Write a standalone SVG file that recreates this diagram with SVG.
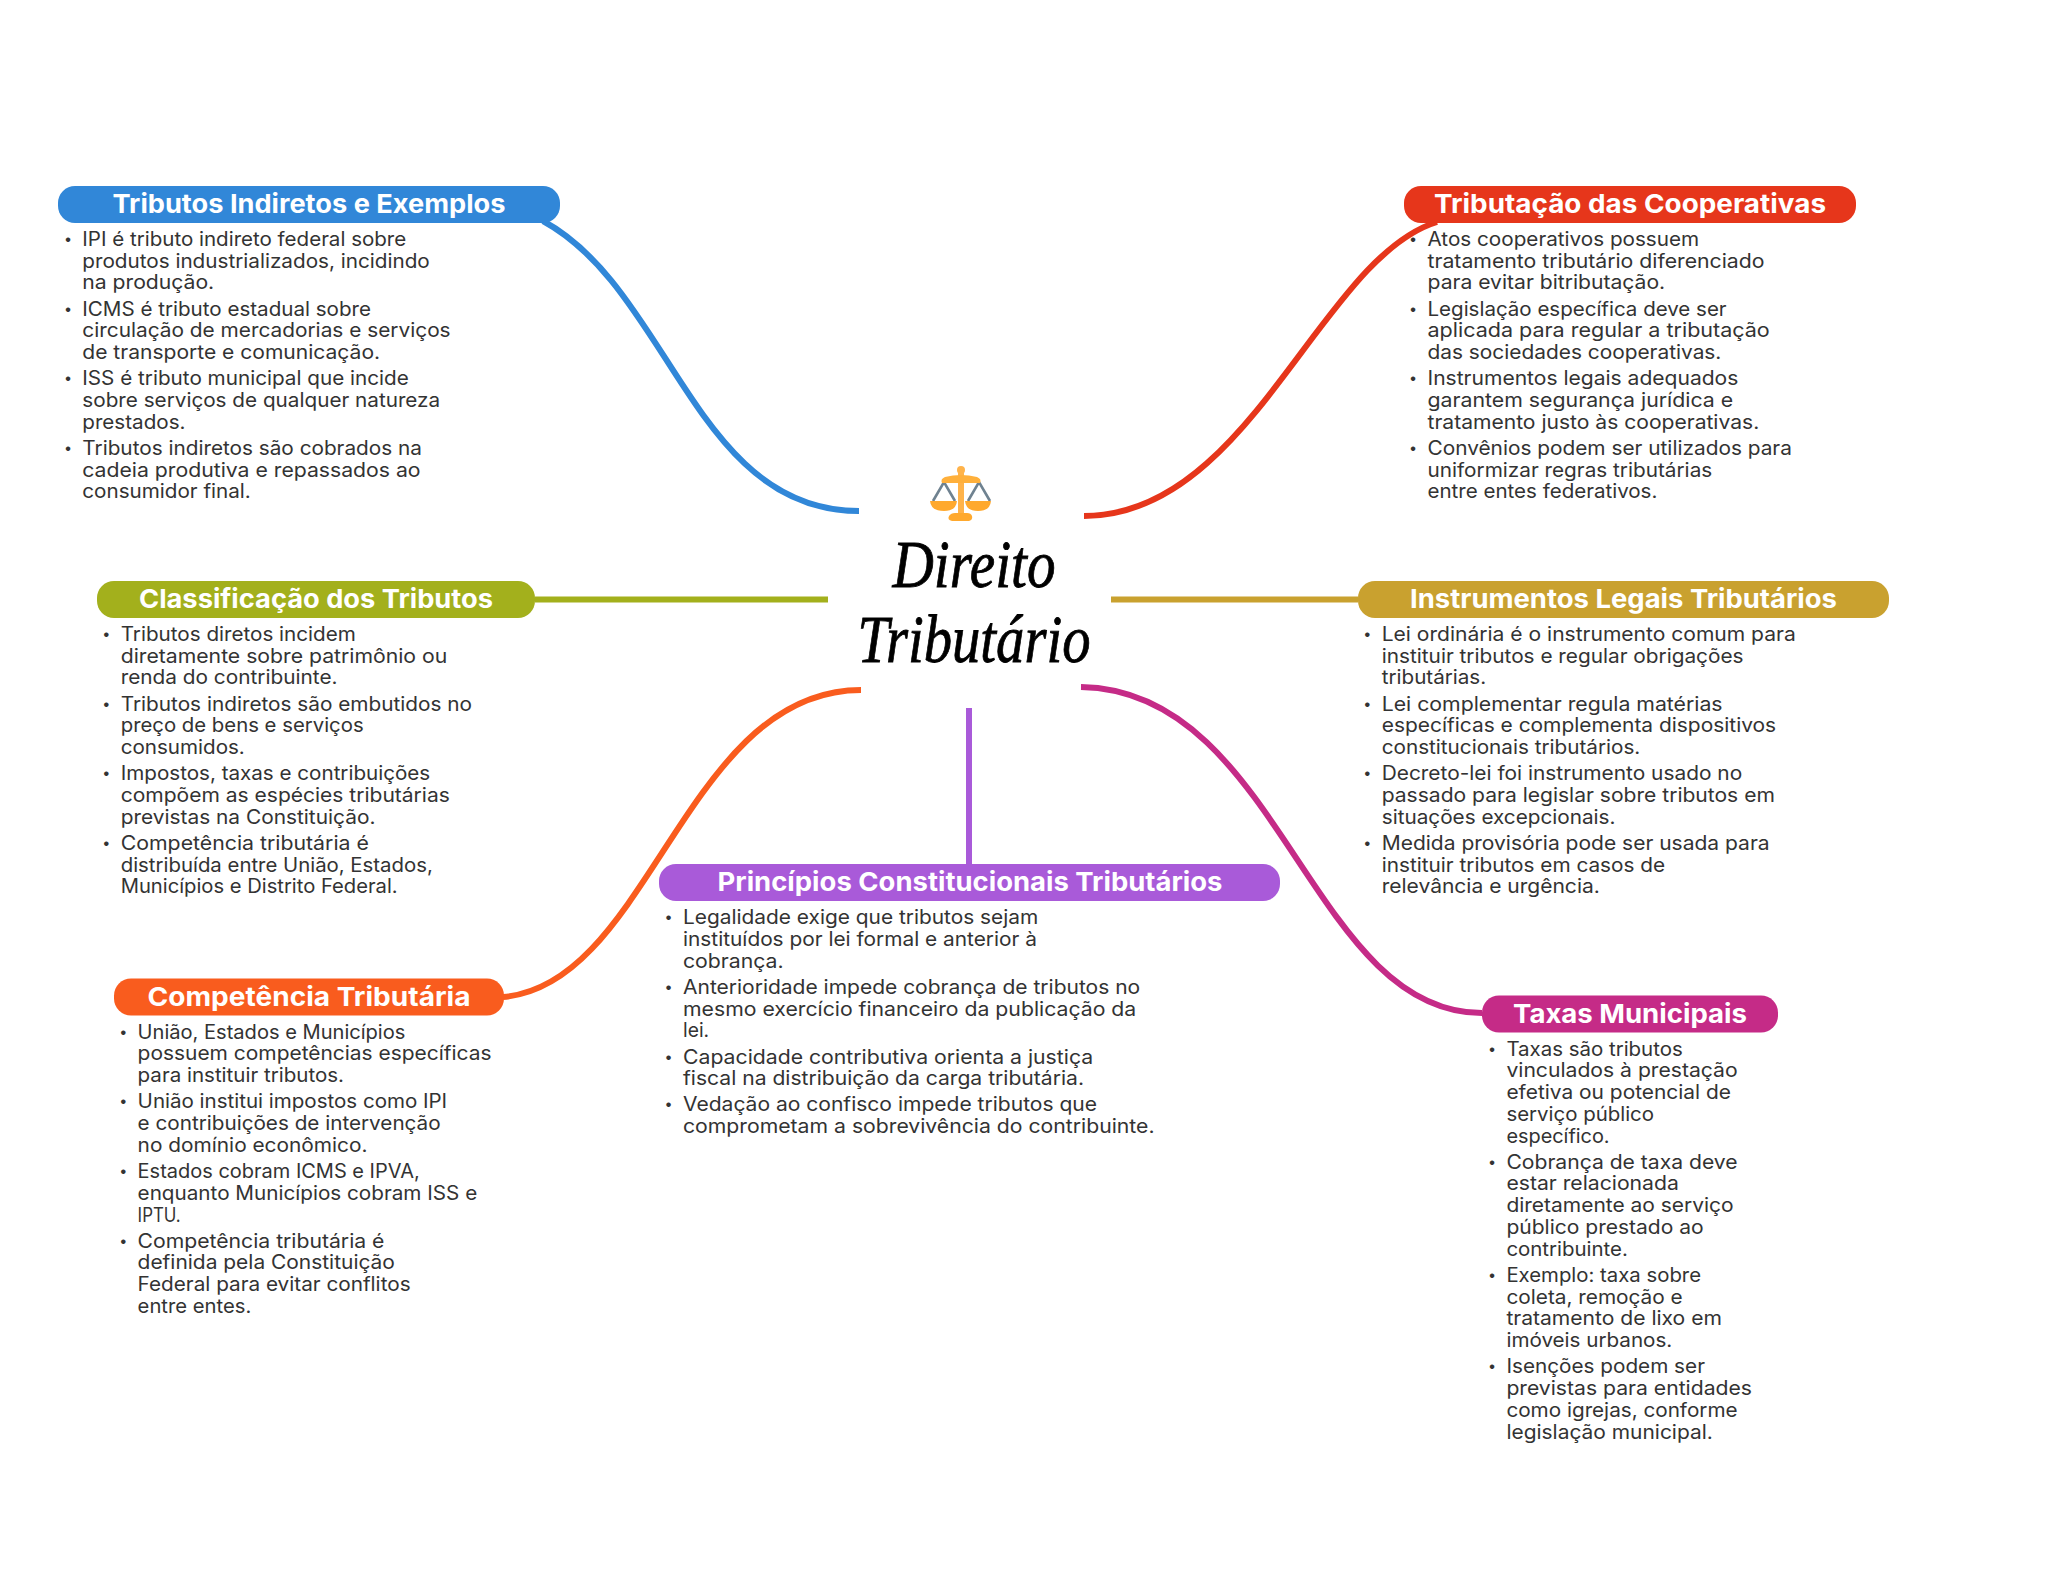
<svg xmlns="http://www.w3.org/2000/svg" width="2048" height="1569" viewBox="0 0 2048 1569">
<style>
.c{fill:none;stroke-width:6}
.h{font:700 26px Inter,"Noto Sans",sans-serif;fill:#fff;text-anchor:middle}
.b text{font:400 15px Inter,"Noto Sans",sans-serif;fill:#333}
.b text.d{font-size:11px;text-anchor:middle;transform:translateY(-1.5px)}
.t{font:italic 400 67px "Liberation Serif",serif;fill:#000;stroke:#000;stroke-width:.8;text-anchor:middle}
</style>
<rect width="2048" height="1569" fill="#fff"/>
<g id="connectors">
<path class="c" stroke="#3187d8" d="M543 221C670 290 695 511 859 511"/>
<path class="c" stroke="#e6361b" d="M1437 222C1320 258 1250 516 1084 516"/>
<line class="c" stroke="#a3b01c" x1="535" y1="599.5" x2="828" y2="599.5"/>
<line class="c" stroke="#c9a12f" x1="1111" y1="599.5" x2="1358" y2="599.5"/>
<path class="c" stroke="#f95c1e" d="M503 997C650 985 685 690 861 690"/>
<path class="c" stroke="#c52b87" d="M1081 687C1280 690 1310 1013 1482 1013"/>
<line class="c" stroke="#a95ad9" x1="969" y1="708" x2="969" y2="865"/>
</g>
<g id="center">
<g id="icon">
<path d="M933 501L944 482L955 501M968 501L979 482L990 501" stroke="#6f8290" stroke-width="2.6" fill="none"/>
<circle cx="961" cy="470" r="4" fill="#ffb34a"/>
<path d="M958 470h6v44h-6z" fill="#ffb34a"/>
<path d="M945 477q16-4 32 0q5 2 3 6h-38q-2-4 3-6z" fill="#ffb03b"/>
<path d="M952 521q-5-1-3-5q2-3 6-3h12q4 0 5 3q1 4-3 5z" fill="#ffa92e"/>
<path d="M930 501h27q-1 10-13 10q-13 0-14-10zM965 501h26q-1 10-13 10q-12 0-13-10z" fill="#ffa92e"/>
</g>
<text class="t" x="974" y="587" textLength="163" lengthAdjust="spacingAndGlyphs">Direito</text>
<text class="t" x="974" y="662" textLength="233" lengthAdjust="spacingAndGlyphs">Tributário</text>
</g>
<g id="n1">
<rect x="58" y="186" width="502" height="37" rx="17" fill="#3187d8"/>
<text class="h" x="309" y="212.5" textLength="393" lengthAdjust="spacingAndGlyphs">Tributos Indiretos e Exemplos</text>
<g class="b" transform="translate(82.3 246) scale(1.30612)">
<text class="d" x="-11" y="0">•</text><text class="d" x="-11" y="53.3">•</text><text class="d" x="-11" y="106.7">•</text><text class="d" x="-11" y="160">•</text>
<text y="0" textLength="248" lengthAdjust="spacingAndGlyphs">IPI é tributo indireto federal sobre</text>
<text y="16.7" textLength="266" lengthAdjust="spacingAndGlyphs">produtos industrializados, incidindo</text>
<text y="33.3" textLength="101" lengthAdjust="spacingAndGlyphs">na produção.</text>
<text y="53.3" textLength="221" lengthAdjust="spacingAndGlyphs">ICMS é tributo estadual sobre</text>
<text y="70" textLength="282" lengthAdjust="spacingAndGlyphs">circulação de mercadorias e serviços</text>
<text y="86.7" textLength="228" lengthAdjust="spacingAndGlyphs">de transporte e comunicação.</text>
<text y="106.7" textLength="250" lengthAdjust="spacingAndGlyphs">ISS é tributo municipal que incide</text>
<text y="123.3" textLength="274" lengthAdjust="spacingAndGlyphs">sobre serviços de qualquer natureza</text>
<text y="140" textLength="79" lengthAdjust="spacingAndGlyphs">prestados.</text>
<text y="160" textLength="260" lengthAdjust="spacingAndGlyphs">Tributos indiretos são cobrados na</text>
<text y="176.7" textLength="259" lengthAdjust="spacingAndGlyphs">cadeia produtiva e repassados ao</text>
<text y="193.3" textLength="129" lengthAdjust="spacingAndGlyphs">consumidor final.</text>
</g>
</g>
<g id="n2">
<rect x="1404" y="186" width="452" height="37" rx="17" fill="#e6361b"/>
<text class="h" x="1630" y="212.5" textLength="392" lengthAdjust="spacingAndGlyphs">Tributação das Cooperativas</text>
<g class="b" transform="translate(1427.5 246) scale(1.30612)">
<text class="d" x="-11" y="0">•</text><text class="d" x="-11" y="53.3">•</text><text class="d" x="-11" y="106.7">•</text><text class="d" x="-11" y="160">•</text>
<text y="0" textLength="208" lengthAdjust="spacingAndGlyphs">Atos cooperativos possuem</text>
<text y="16.7" textLength="258" lengthAdjust="spacingAndGlyphs">tratamento tributário diferenciado</text>
<text y="33.3" textLength="182" lengthAdjust="spacingAndGlyphs">para evitar bitributação.</text>
<text y="53.3" textLength="229" lengthAdjust="spacingAndGlyphs">Legislação específica deve ser</text>
<text y="70" textLength="262" lengthAdjust="spacingAndGlyphs">aplicada para regular a tributação</text>
<text y="86.7" textLength="225" lengthAdjust="spacingAndGlyphs">das sociedades cooperativas.</text>
<text y="106.7" textLength="238" lengthAdjust="spacingAndGlyphs">Instrumentos legais adequados</text>
<text y="123.3" textLength="234" lengthAdjust="spacingAndGlyphs">garantem segurança jurídica e</text>
<text y="140" textLength="254" lengthAdjust="spacingAndGlyphs">tratamento justo às cooperativas.</text>
<text y="160" textLength="279" lengthAdjust="spacingAndGlyphs">Convênios podem ser utilizados para</text>
<text y="176.7" textLength="218" lengthAdjust="spacingAndGlyphs">uniformizar regras tributárias</text>
<text y="193.3" textLength="176" lengthAdjust="spacingAndGlyphs">entre entes federativos.</text>
</g>
</g>
<g id="n3">
<rect x="97" y="581" width="438" height="37" rx="17" fill="#a3b01c"/>
<text class="h" x="316" y="607.5" textLength="354" lengthAdjust="spacingAndGlyphs">Classificação dos Tributos</text>
<g class="b" transform="translate(120.7 641) scale(1.30612)">
<text class="d" x="-11" y="0">•</text><text class="d" x="-11" y="53.3">•</text><text class="d" x="-11" y="106.7">•</text><text class="d" x="-11" y="160">•</text>
<text y="0" textLength="180" lengthAdjust="spacingAndGlyphs">Tributos diretos incidem</text>
<text y="16.7" textLength="250" lengthAdjust="spacingAndGlyphs">diretamente sobre patrimônio ou</text>
<text y="33.3" textLength="166" lengthAdjust="spacingAndGlyphs">renda do contribuinte.</text>
<text y="53.3" textLength="269" lengthAdjust="spacingAndGlyphs">Tributos indiretos são embutidos no</text>
<text y="70" textLength="186" lengthAdjust="spacingAndGlyphs">preço de bens e serviços</text>
<text y="86.7" textLength="95" lengthAdjust="spacingAndGlyphs">consumidos.</text>
<text y="106.7" textLength="237" lengthAdjust="spacingAndGlyphs">Impostos, taxas e contribuições</text>
<text y="123.3" textLength="252" lengthAdjust="spacingAndGlyphs">compõem as espécies tributárias</text>
<text y="140" textLength="195" lengthAdjust="spacingAndGlyphs">previstas na Constituição.</text>
<text y="160" textLength="190" lengthAdjust="spacingAndGlyphs">Competência tributária é</text>
<text y="176.7" textLength="239" lengthAdjust="spacingAndGlyphs">distribuída entre União, Estados,</text>
<text y="193.3" textLength="212" lengthAdjust="spacingAndGlyphs">Municípios e Distrito Federal.</text>
</g>
</g>
<g id="n4">
<rect x="1358" y="581" width="531" height="37" rx="17" fill="#c9a12f"/>
<text class="h" x="1623.5" y="607.5" textLength="427" lengthAdjust="spacingAndGlyphs">Instrumentos Legais Tributários</text>
<g class="b" transform="translate(1381.7 641) scale(1.30612)">
<text class="d" x="-11" y="0">•</text><text class="d" x="-11" y="53.3">•</text><text class="d" x="-11" y="106.7">•</text><text class="d" x="-11" y="160">•</text>
<text y="0" textLength="317" lengthAdjust="spacingAndGlyphs">Lei ordinária é o instrumento comum para</text>
<text y="16.7" textLength="277" lengthAdjust="spacingAndGlyphs">instituir tributos e regular obrigações</text>
<text y="33.3" textLength="80" lengthAdjust="spacingAndGlyphs">tributárias.</text>
<text y="53.3" textLength="261" lengthAdjust="spacingAndGlyphs">Lei complementar regula matérias</text>
<text y="70" textLength="302" lengthAdjust="spacingAndGlyphs">específicas e complementa dispositivos</text>
<text y="86.7" textLength="198" lengthAdjust="spacingAndGlyphs">constitucionais tributários.</text>
<text y="106.7" textLength="276" lengthAdjust="spacingAndGlyphs">Decreto-lei foi instrumento usado no</text>
<text y="123.3" textLength="301" lengthAdjust="spacingAndGlyphs">passado para legislar sobre tributos em</text>
<text y="140" textLength="179" lengthAdjust="spacingAndGlyphs">situações excepcionais.</text>
<text y="160" textLength="297" lengthAdjust="spacingAndGlyphs">Medida provisória pode ser usada para</text>
<text y="176.7" textLength="217" lengthAdjust="spacingAndGlyphs">instituir tributos em casos de</text>
<text y="193.3" textLength="167" lengthAdjust="spacingAndGlyphs">relevância e urgência.</text>
</g>
</g>
<g id="n5">
<rect x="659" y="864" width="621" height="37" rx="17" fill="#a95ad9"/>
<text class="h" x="970" y="891" textLength="505" lengthAdjust="spacingAndGlyphs">Princípios Constitucionais Tributários</text>
<g class="b" transform="translate(683 924.2) scale(1.30612)">
<text class="d" x="-11" y="0">•</text><text class="d" x="-11" y="53.3">•</text><text class="d" x="-11" y="106.7">•</text><text class="d" x="-11" y="143.3">•</text>
<text y="0" textLength="272" lengthAdjust="spacingAndGlyphs">Legalidade exige que tributos sejam</text>
<text y="16.7" textLength="271" lengthAdjust="spacingAndGlyphs">instituídos por lei formal e anterior à</text>
<text y="33.3" textLength="77" lengthAdjust="spacingAndGlyphs">cobrança.</text>
<text y="53.3" textLength="350" lengthAdjust="spacingAndGlyphs">Anterioridade impede cobrança de tributos no</text>
<text y="70" textLength="347" lengthAdjust="spacingAndGlyphs">mesmo exercício financeiro da publicação da</text>
<text y="86.7" textLength="20" lengthAdjust="spacingAndGlyphs">lei.</text>
<text y="106.7" textLength="314" lengthAdjust="spacingAndGlyphs">Capacidade contributiva orienta a justiça</text>
<text y="123.3" textLength="307" lengthAdjust="spacingAndGlyphs">fiscal na distribuição da carga tributária.</text>
<text y="143.3" textLength="317" lengthAdjust="spacingAndGlyphs">Vedação ao confisco impede tributos que</text>
<text y="160" textLength="361" lengthAdjust="spacingAndGlyphs">comprometam a sobrevivência do contribuinte.</text>
</g>
</g>
<g id="n6">
<rect x="114" y="978.5" width="390" height="37" rx="17" fill="#f95c1e"/>
<text class="h" x="309" y="1005.7" textLength="323" lengthAdjust="spacingAndGlyphs">Competência Tributária</text>
<g class="b" transform="translate(137.6 1038.7) scale(1.30612)">
<text class="d" x="-11" y="0">•</text><text class="d" x="-11" y="53.3">•</text><text class="d" x="-11" y="106.7">•</text><text class="d" x="-11" y="160">•</text>
<text y="0" textLength="205" lengthAdjust="spacingAndGlyphs">União, Estados e Municípios</text>
<text y="16.7" textLength="271" lengthAdjust="spacingAndGlyphs">possuem competências específicas</text>
<text y="33.3" textLength="158" lengthAdjust="spacingAndGlyphs">para instituir tributos.</text>
<text y="53.3" textLength="237" lengthAdjust="spacingAndGlyphs">União institui impostos como IPI</text>
<text y="70" textLength="232" lengthAdjust="spacingAndGlyphs">e contribuições de intervenção</text>
<text y="86.7" textLength="176" lengthAdjust="spacingAndGlyphs">no domínio econômico.</text>
<text y="106.7" textLength="216" lengthAdjust="spacingAndGlyphs">Estados cobram ICMS e IPVA,</text>
<text y="123.3" textLength="260" lengthAdjust="spacingAndGlyphs">enquanto Municípios cobram ISS e</text>
<text y="140" textLength="33" lengthAdjust="spacingAndGlyphs">IPTU.</text>
<text y="160" textLength="189" lengthAdjust="spacingAndGlyphs">Competência tributária é</text>
<text y="176.7" textLength="197" lengthAdjust="spacingAndGlyphs">definida pela Constituição</text>
<text y="193.3" textLength="209" lengthAdjust="spacingAndGlyphs">Federal para evitar conflitos</text>
<text y="210" textLength="87" lengthAdjust="spacingAndGlyphs">entre entes.</text>
</g>
</g>
<g id="n7">
<rect x="1482" y="995.5" width="296" height="37" rx="17" fill="#c52b87"/>
<text class="h" x="1630" y="1022.7" textLength="234" lengthAdjust="spacingAndGlyphs">Taxas Municipais</text>
<g class="b" transform="translate(1506.4 1055.5) scale(1.30612)">
<text class="d" x="-11" y="0">•</text><text class="d" x="-11" y="86.7">•</text><text class="d" x="-11" y="173.3">•</text><text class="d" x="-11" y="243.3">•</text>
<text y="0" textLength="135" lengthAdjust="spacingAndGlyphs">Taxas são tributos</text>
<text y="16.7" textLength="177" lengthAdjust="spacingAndGlyphs">vinculados à prestação</text>
<text y="33.3" textLength="172" lengthAdjust="spacingAndGlyphs">efetiva ou potencial de</text>
<text y="50" textLength="113" lengthAdjust="spacingAndGlyphs">serviço público</text>
<text y="66.7" textLength="79" lengthAdjust="spacingAndGlyphs">específico.</text>
<text y="86.7" textLength="177" lengthAdjust="spacingAndGlyphs">Cobrança de taxa deve</text>
<text y="103.3" textLength="132" lengthAdjust="spacingAndGlyphs">estar relacionada</text>
<text y="120" textLength="174" lengthAdjust="spacingAndGlyphs">diretamente ao serviço</text>
<text y="136.7" textLength="151" lengthAdjust="spacingAndGlyphs">público prestado ao</text>
<text y="153.3" textLength="93" lengthAdjust="spacingAndGlyphs">contribuinte.</text>
<text y="173.3" textLength="149" lengthAdjust="spacingAndGlyphs">Exemplo: taxa sobre</text>
<text y="190" textLength="135" lengthAdjust="spacingAndGlyphs">coleta, remoção e</text>
<text y="206.7" textLength="165" lengthAdjust="spacingAndGlyphs">tratamento de lixo em</text>
<text y="223.3" textLength="127" lengthAdjust="spacingAndGlyphs">imóveis urbanos.</text>
<text y="243.3" textLength="152" lengthAdjust="spacingAndGlyphs">Isenções podem ser</text>
<text y="260" textLength="188" lengthAdjust="spacingAndGlyphs">previstas para entidades</text>
<text y="276.7" textLength="177" lengthAdjust="spacingAndGlyphs">como igrejas, conforme</text>
<text y="293.3" textLength="158" lengthAdjust="spacingAndGlyphs">legislação municipal.</text>
</g>
</g>
</svg>
